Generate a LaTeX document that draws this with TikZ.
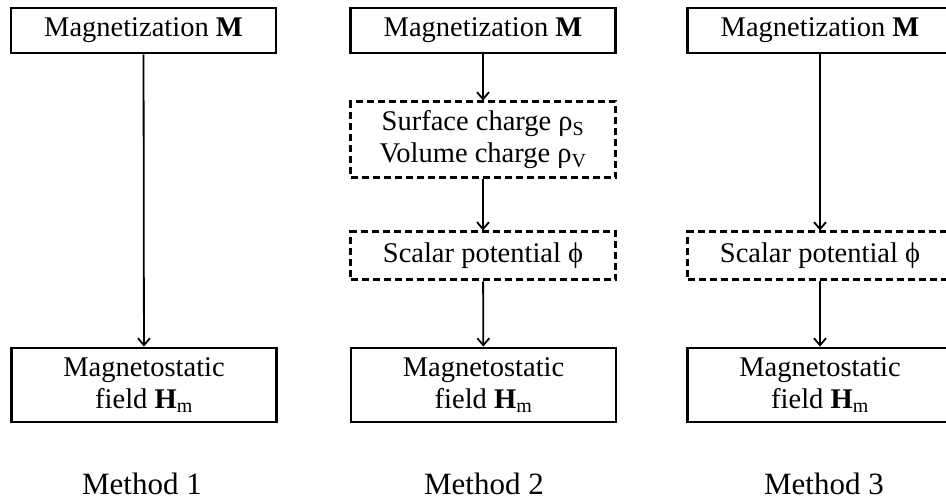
\documentclass[tikz,border=0pt]{standalone}
\usepackage{fontspec}
\setmainfont{Liberation Serif}
\usepackage{tikz}
\tikzset{main node/.style={rectangle,draw,line width=2.8pt,minimum width=265pt,minimum height=45pt,inner sep=0pt,align=center,font=\fontsize{28.5}{32}\selectfont},
dash node/.style={main node,dash pattern=on 7pt off 4pt,line width=3pt},
label node/.style={font=\fontsize{31}{34}\selectfont},
arr/.style={draw,line width=1.8pt,-{Straight Barb[length=7pt,width=12pt]}},
}
\usetikzlibrary{arrows.meta}

\begin{document}
\begin{tikzpicture}[x=1pt,y=-1pt]
\clip (0,0) rectangle (946,502);

%% Method 1
\node[main node] (M1) at (143.5,30.5) {Magnetization \textbf{M}};
\node[main node,minimum height=74pt] (H1) at (144,385) {Magnetostatic\\field \textbf{H}\textsubscript{m}};
\node[label node] (L1) at (142,484) {Method 1};

%% Method 2
\node[main node] (M2) at (483,30.5) {Magnetization \textbf{M}};
\node[dash node,minimum height=76pt] (C2) at (483,140) {Surface charge ρ\textsubscript{S}\\Volume charge ρ\textsubscript{V}};
\node[dash node,minimum height=48pt] (P2) at (483,256) {Scalar potential ϕ};
\node[main node,minimum height=74pt] (H2) at (483.5,385) {Magnetostatic\\field \textbf{H}\textsubscript{m}};
\node[label node] (L2) at (484,484) {Method 2};

%% Method 3
\node[main node] (M3) at (820,30.5) {Magnetization \textbf{M}};
\node[dash node,minimum height=48pt] (P3) at (820,256) {Scalar potential ϕ};
\node[main node,minimum height=74pt] (H3) at (820,385) {Magnetostatic\\field \textbf{H}\textsubscript{m}};
\node[label node] (L3) at (824,484) {Method 3};

\path[arr]
(M1) edge (H1)
(M2) edge (C2)
(C2) edge (P2)
(P2) edge (H2)
(M3) edge (P3)
(P3) edge (H3)
;
\end{tikzpicture}
\end{document}
